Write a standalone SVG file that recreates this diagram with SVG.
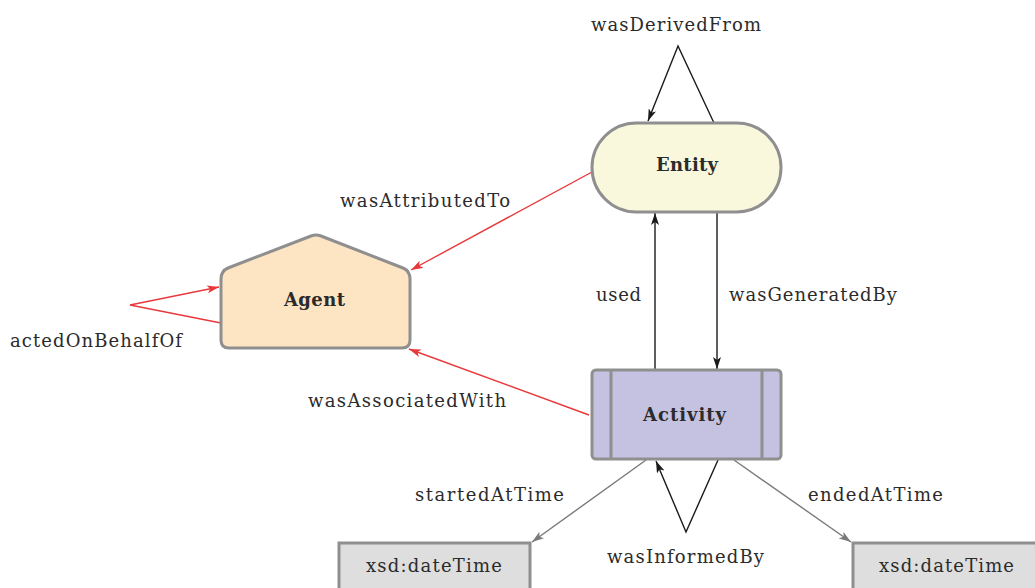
<svg xmlns="http://www.w3.org/2000/svg" width="1035" height="588" viewBox="0 0 1035 588">
<style>
text{font-family:"DejaVu Serif","Liberation Serif",serif;font-size:18px;fill:#2b2b2b}
.nl{font-weight:bold}
.node{stroke:#8f8f8f;stroke-width:3}
.k{stroke:#1a1a1a;stroke-width:1.4;fill:none}
.r{stroke:#e8383a;stroke-width:1.4;fill:none}
.g{stroke:#7a7a7a;stroke-width:1.4;fill:none}
</style>
<defs>
<marker id="ak" viewBox="0 0 12 8" refX="12" refY="4" markerWidth="12" markerHeight="8" markerUnits="userSpaceOnUse" orient="auto"><path d="M0,0 L12,4 L0,8 L3,4 Z" fill="#1a1a1a"/></marker>
<marker id="ar" viewBox="0 0 12 8" refX="12" refY="4" markerWidth="12" markerHeight="8" markerUnits="userSpaceOnUse" orient="auto"><path d="M0,0 L12,4 L0,8 L3,4 Z" fill="#e8383a"/></marker>
<marker id="ag" viewBox="0 0 12 8" refX="12" refY="4" markerWidth="12" markerHeight="8" markerUnits="userSpaceOnUse" orient="auto"><path d="M0,0 L12,4 L0,8 L3,4 Z" fill="#7a7a7a"/></marker>
</defs>
<g id="connectors">
<polyline class="k" points="714,123 678,46 648,121" marker-end="url(#ak)"/>
<line class="k" x1="655" y1="370" x2="655" y2="213" marker-end="url(#ak)"/>
<line class="k" x1="717" y1="212" x2="717" y2="369" marker-end="url(#ak)"/>
<line class="r" x1="592" y1="172" x2="411" y2="270" marker-end="url(#ar)"/>
<line class="r" x1="589" y1="415" x2="409" y2="349" marker-end="url(#ar)"/>
<polyline class="r" points="221,323 130,305 219,287" marker-end="url(#ar)"/>
<line class="g" x1="646" y1="460" x2="532" y2="542" marker-end="url(#ag)"/>
<line class="g" x1="734" y1="460" x2="851" y2="542" marker-end="url(#ag)"/>
<polyline class="k" points="718,460 686,532 656,461" marker-end="url(#ak)"/>
<text x="591" y="31" textLength="170" lengthAdjust="spacing">wasDerivedFrom</text>
<text x="596" y="301" textLength="45" lengthAdjust="spacing">used</text>
<text x="729" y="301" textLength="168" lengthAdjust="spacing">wasGeneratedBy</text>
<text x="340" y="207" textLength="170" lengthAdjust="spacing">wasAttributedTo</text>
<text x="308" y="407" textLength="198" lengthAdjust="spacing">wasAssociatedWith</text>
<text x="10" y="347" textLength="172" lengthAdjust="spacing">actedOnBehalfOf</text>
<text x="415" y="501" textLength="149" lengthAdjust="spacing">startedAtTime</text>
<text x="808" y="501" textLength="135" lengthAdjust="spacing">endedAtTime</text>
<text x="607" y="563" textLength="157" lengthAdjust="spacing">wasInformedBy</text>
</g>
<g id="entity">
<rect class="node" x="592" y="123" width="189" height="89" rx="44.5" fill="#f9f8dc"/>
<text class="nl" x="656" y="171" textLength="62" lengthAdjust="spacing">Entity</text>
</g>
<g id="agent">
<path class="node" d="M221,279 Q221,271 228,268 L311,236 Q316,234 321,236 L403,268 Q410,271 410,279 L410,340 Q410,348 402,348 L229,348 Q221,348 221,340 Z" fill="#fde4c2"/>
<text class="nl" x="284" y="306" textLength="61" lengthAdjust="spacing">Agent</text>
</g>
<g id="activity">
<rect class="node" x="592" y="370" width="189" height="89" rx="4" fill="#c4c2e0"/>
<line class="node" x1="611" y1="370" x2="611" y2="459"/>
<line class="node" x1="762" y1="370" x2="762" y2="459"/>
<text class="nl" x="643" y="421" textLength="83" lengthAdjust="spacing">Activity</text>
</g>
<g id="start-time">
<rect class="node" x="339" y="543" width="191" height="60" fill="#dedede"/>
<text x="366" y="572" textLength="136" lengthAdjust="spacing">xsd:dateTime</text>
</g>
<g id="end-time">
<rect class="node" x="853" y="543" width="191" height="60" fill="#dedede"/>
<text x="879" y="572" textLength="135" lengthAdjust="spacing">xsd:dateTime</text>
</g>
</svg>
